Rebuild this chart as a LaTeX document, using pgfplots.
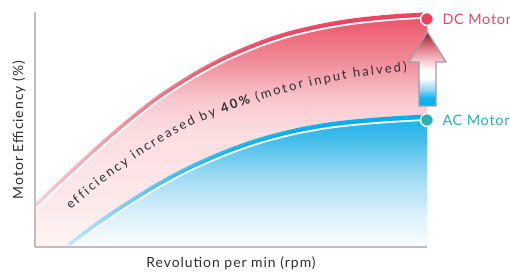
\documentclass[border=0pt]{standalone}
\usepackage{pgfplots}
\pgfplotsset{compat=1.18}
\usepackage{fontspec}
\setmainfont{Lato}
\newfontfamily\labelfont[LetterSpace=7]{Lato}
\newfontfamily\motorfont[LetterSpace=5]{Lato}
\usetikzlibrary{decorations.text,fadings}

\definecolor{dcred}{HTML}{E9445F}
\definecolor{acteal}{HTML}{25B4AE}
\definecolor{acblue}{HTML}{00AEEF}
\definecolor{axgray}{HTML}{BEBEBE}
\definecolor{txt}{HTML}{2E2E2E}
\definecolor{rf0}{HTML}{FEF5F5}
\definecolor{rf1}{HTML}{FDE9EA}
\definecolor{rf2}{HTML}{FCDDE0}
\definecolor{rf3}{HTML}{F8C8CD}
\definecolor{rf4}{HTML}{F08A97}
\definecolor{rf5}{HTML}{EB5167}
\definecolor{bf0}{HTML}{FAFDFF}
\definecolor{bf1}{HTML}{DCF1FB}
\definecolor{bf2}{HTML}{A6DDF4}
\definecolor{bf3}{HTML}{45BEEC}
\definecolor{bf4}{HTML}{1DB0EA}
\definecolor{ar0}{HTML}{00AEEF}
\definecolor{ar1}{HTML}{12B4EF}
\definecolor{ar2}{HTML}{8ED6F4}
\definecolor{ar3}{HTML}{F6C5CB}
\definecolor{ar4}{HTML}{E27B88}
\definecolor{ar5}{HTML}{A33545}
\definecolor{ar6}{HTML}{7E1E2C}

\pgfdeclareverticalshading{redfill}{100bp}{color(0bp)=(rf0); color(25bp)=(rf0); color(35.1bp)=(rf1); color(50bp)=(rf2); color(56.7bp)=(rf3); color(65.3bp)=(rf4); color(75bp)=(rf5); color(100bp)=(rf5)}
\pgfdeclareverticalshading{bluefill}{100bp}{color(0bp)=(bf0); color(25bp)=(bf0); color(37.3bp)=(bf1); color(50.8bp)=(bf2); color(66.2bp)=(bf3); color(75bp)=(bf4); color(100bp)=(bf4)}
\pgfdeclareverticalshading{arrowfill}{100bp}{color(0bp)=(ar0); color(25bp)=(ar0); color(30.4bp)=(ar1); color(35.8bp)=(ar2); color(43.9bp)=(white); color(49.3bp)=(white); color(56bp)=(ar3); color(64.2bp)=(ar4); color(72.3bp)=(ar5); color(75bp)=(ar6); color(100bp)=(ar6)}

\tikzfading[name=redlinefade, top color=transparent!0, bottom color=transparent!80]
\tikzfading[name=bluelinefade, top color=transparent!0, bottom color=transparent!80]

\pgfplotstableread{
x y
35 66
63 92.6
100 126.6
130 152.4
160 175.8
195 198.2
227 215.2
260 229.1
290 239
325 247
357 252.1
392 255.6
427 257.7
}\dcdata
\pgfplotstableread{
x y
69 27
100 50.3
130 70.4
160 88.7
190 104.6
225 120
260 132.3
295 141.4
330 147.7
365 151.5
400 154
427 155.4
}\acdata

\def\K{\kern2.15bp}
\def\S{\kern3bp}

\begin{document}
\begin{tikzpicture}
\begin{axis}[
  at={(35bp,25bp)}, anchor=south west,
  x=1bp, y=1bp,
  xmin=35, xmax=427, ymin=25, ymax=260,
  axis lines=left,
  axis line style={-, draw=axgray, line width=2bp},
  xtick=\empty, ytick=\empty,
  axis on top,
  clip=false,
]
% DC fill and line
\addplot[draw=none, shading=redfill, smooth] table[x=x,y=y] {\dcdata} \closedcycle;
\addplot[dcred, line width=4bp, smooth, path fading=redlinefade] table[x=x,y=y] {\dcdata};
\addplot[white, line width=1.8bp, smooth, yshift=-3.4bp] table[x=x,y=y] {\dcdata};
% AC fill and line
\addplot[draw=none, shading=bluefill, smooth] table[x=x,y=y] {\acdata} \closedcycle;
\addplot[acblue, line width=4bp, smooth, path fading=bluelinefade] table[x=x,y=y] {\acdata};
\addplot[white, line width=1.8bp, smooth, yshift=-3.4bp] table[x=x,y=y] {\acdata};
% arrow
\path[draw=gray!75, line width=1.2bp, shading=arrowfill]
  (axis cs:427.5,240) -- (axis cs:446,210) -- (axis cs:436,210) -- (axis cs:436,166)
  -- (axis cs:419,166) -- (axis cs:419,210) -- (axis cs:409,210) -- cycle;
% markers
\addplot[only marks, mark=*, mark size=6.5, mark options={fill=dcred, draw=white, line width=1.5bp}] coordinates {(427,253)};
\addplot[only marks, mark=*, mark size=6.5, mark options={fill=acteal, draw=white, line width=1.5bp}] coordinates {(427,152)};
% labels
\node[anchor=west, text=dcred, font=\motorfont\fontsize{14.5}{17}\selectfont] at (axis cs:439,253) {DC Motor};
\node[anchor=west, text=acteal, font=\motorfont\fontsize{14.5}{17}\selectfont] at (axis cs:439,152) {AC Motor};
\node[text=txt, font=\labelfont\fontsize{14}{16}\selectfont] at (axis cs:231,8.5) {Revolution per min (rpm)};
\node[text=txt, rotate=90, font=\labelfont\fontsize{14}{16}\selectfont] at (axis cs:19,142) {Motor Efficiency (\%)};
\end{axis}
% curved text (annotation); path extends past the text end
{\fontsize{13}{15}\selectfont
\path[decorate, decoration={text along path, text color=txt,
  text={{e\K}{f\K}{f\K}{i\K}{c\K}{i\K}{e\K}{n\K}{c\K}y {\S}{i\K}{n\K}{c\K}{r\K}{e\K}{a\K}{s\K}{e\K}d {\S}{b\K}y {\S}|\bfseries|{4\K}{0\K}{\%}|\mdseries| {\S}{(\K}{m\K}{o\K}{t\K}{o\K}r {\S}{i\K}{n\K}{p\K}{u\K}t {\S}{h\K}{a\K}{l\K}{v\K}{e\K}{d\K}{)} }}]
  plot[smooth] coordinates {(71bp,62bp) (100bp,87bp) (130bp,109bp) (165bp,132bp) (200bp,150bp) (240bp,165bp) (280bp,178bp) (320bp,188bp) (360bp,195bp) (401bp,200bp) (450bp,204bp) (500bp,207bp)};
}
\pgfresetboundingbox
\useasboundingbox (0,0) rectangle (510bp,272bp);
\end{tikzpicture}
\end{document}
